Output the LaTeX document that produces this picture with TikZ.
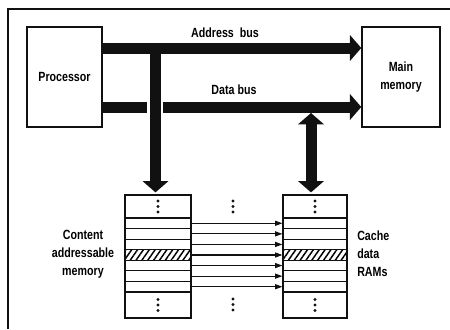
\documentclass[tikz,border=0pt]{standalone}
\usepackage{fontspec}
\setmainfont{Liberation Sans}[FakeStretch=0.8]
\usepackage{tikz}
\usetikzlibrary{arrows.meta,positioning,calc,patterns.meta}
\definecolor{inkblack}{HTML}{111111}

\begin{document}
\begin{tikzpicture}[
    x=0.75pt, y=-0.75pt,
    font=\fontsize{10}{13.5}\selectfont\bfseries,
    box/.style={draw=inkblack, line width=1.1pt, inner sep=0pt, align=center},
    cell/.style={draw=inkblack, line width=0.9pt, inner sep=0pt, minimum height=7.93pt},
    busline/.style={line width=8.25pt, inkblack},
    bus/.style={busline, -{Triangle[length=8.5pt,width=19pt]}},
    dbl/.style={busline, {Triangle[length=8.5pt,width=19pt]}-{Triangle[length=8.5pt,width=19pt]}},
    rowarr/.style={line width=0.8pt, inkblack, -{Triangle[length=5.5pt,width=3.8pt]}},
    lbl/.style={inner sep=0pt, align=center}
]
\useasboundingbox (0,0) rectangle (450,329);
\draw[line width=0.9pt, inkblack] (8,329) -- (8,9) -- (450,9);

\node[box, minimum width=56.25pt, minimum height=75pt] (proc) at (64.5,77) {Processor};
\node[box, minimum width=58.5pt, minimum height=75pt] (mainmem) at (401,77) {Main\\memory};

\node[cell, minimum width=49.5pt, minimum height=17.25pt] (camtop) at (158,206.5) {};
\node[cell, minimum width=49.5pt, minimum height=19.5pt] (cambot) at (158,305) {};
\node[cell, minimum width=48pt, minimum height=17.25pt] (ramtop) at (315,206.5) {};
\node[cell, minimum width=48pt, minimum height=19.5pt] (rambot) at (315,305) {};
\foreach \i in {1,...,7} {
  \node[cell, minimum width=49.5pt] (cam\i) at (158,{218+(\i-0.5)*10.571}) {};
  \node[cell, minimum width=48pt] (ram\i) at (315,{218+(\i-0.5)*10.571}) {};
  \draw[rowarr] (cam\i.east) -- (ram\i.west);
}
\node[cell, minimum width=49.5pt, pattern={Lines[angle=55,distance=3.6pt,line width=1.1pt]}] at (cam4) {};
\node[cell, minimum width=48pt, pattern={Lines[angle=55,distance=3.6pt,line width=1.1pt]}] at (ram4) {};

\coordinate (midtop) at (233,206.5);
\coordinate (midbot) at (233,304.5);
\foreach \n in {camtop,cambot,ramtop,rambot,midtop,midbot}
  \foreach \d in {-5.5,0,5.5}
    \fill[inkblack] (\n) ++(0,\d) circle[radius=1.15pt];

\coordinate (abus) at (0,48);
\coordinate (dbus) at (0,107);
\coordinate (atap) at (155.5,48);
\coordinate (dtap) at (311,113);

\draw[bus] (proc.east |- abus) -- (mainmem.west |- abus);
\draw[busline] (proc.east |- dbus) -- ($(atap |- dbus)+(-8.5,0)$);
\draw[bus] ($(atap |- dbus)+(7.5,0)$) -- (mainmem.west |- dbus);
\draw[bus] (atap) -- ($(atap |- camtop.north)+(0,-2)$);
\draw[dbl] ($(dtap |- ramtop.north)+(0,-2)$) -- (dtap);

\node[lbl] (abuslbl) at (225,33) {Address\ \ bus};
\node[lbl] (dbuslbl) at (234,90) {Data bus};
\node[lbl] (camlbl) at (83,254) {Content\\addressable\\memory};
\node[lbl, anchor=west, align=left] (ramlbl) at (357,254) {Cache\\data\\RAMs};
\end{tikzpicture}
\end{document}
